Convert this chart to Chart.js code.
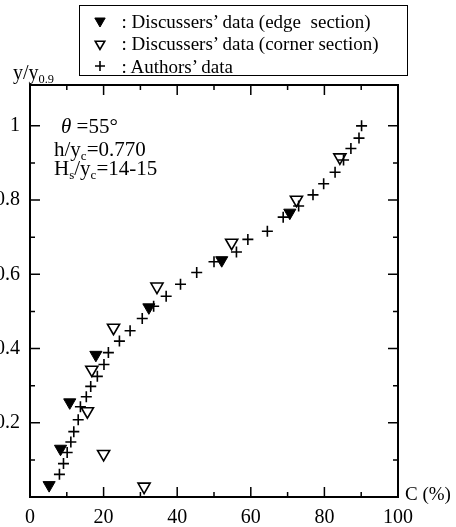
<!DOCTYPE html>
<html><head><meta charset="utf-8">
<script src="https://cdn.jsdelivr.net/npm/chart.js@4/dist/chart.umd.min.js"></script>
<style>
html,body{margin:0;padding:0;background:#fff;overflow:hidden;width:456px;height:527px;}
#wrap{position:relative;width:456px;height:527px;overflow:hidden;background:#fff;}
#c{position:absolute;left:-20px;top:0;}
.t{position:absolute;font-family:"Liberation Serif","Times New Roman",serif;color:#000;white-space:pre;line-height:1;}
.t sub{font-size:0.62em;vertical-align:-0.32em;line-height:0;}
#legend{position:absolute;left:79px;top:5px;width:329px;height:71px;border:1.5px solid #000;box-sizing:border-box;}
.sym{position:absolute;}
</style></head>
<body>
<div id="wrap">
<canvas id="c" width="476" height="527"></canvas>
<div id="legend"></div>
<div class="t" style="left:13px;top:62px;font-size:20px;">y/y<sub>0.9</sub></div>
<div class="t" style="left:405px;top:483.5px;font-size:19px;">C (%)</div>
<div class="t" style="left:61px;top:116px;font-size:21px;"><i>θ</i> =55°</div>
<div class="t" style="left:54px;top:139px;font-size:21px;">h/y<sub>c</sub>=0.770</div>
<div class="t" style="left:54px;top:158px;font-size:21px;">H<sub>s</sub>/y<sub>c</sub>=14-15</div>
</div>
<script>
// ---- data ----
const authorsC = [8.0, 9.1, 10.1, 11.1, 11.9, 13.1, 13.7, 15.3, 16.5, 18.3, 20.1, 21.3, 24.3, 27.2, 30.5, 33.6, 37.0, 40.9, 45.3, 50.0, 56.1, 59.2, 64.5, 68.8, 73.0, 76.9, 79.8, 82.9, 85.2, 87.2, 89.4, 90.1];
const authorsY = [0.061, 0.090, 0.120, 0.148, 0.176, 0.208, 0.243, 0.270, 0.298, 0.325, 0.357, 0.389, 0.420, 0.448, 0.481, 0.514, 0.541, 0.573, 0.605, 0.634, 0.660, 0.694, 0.716, 0.754, 0.784, 0.814, 0.844, 0.875, 0.908, 0.939, 0.967, 1.000];
const edgeC = [5.2, 8.3, 10.8, 17.9, 32.3, 52.1, 70.6];
const edgeY = [0.032, 0.130, 0.255, 0.383, 0.511, 0.638, 0.766];
const cornerC = [31.0, 20.0, 15.6, 16.8, 22.7, 34.5, 54.8, 72.4, 84.2];
const cornerY = [0.028, 0.116, 0.231, 0.343, 0.456, 0.567, 0.685, 0.801, 0.915];
const seriesLabels = ["Discussers\u2019 data (edge  section)", "Discussers\u2019 data (corner section)", "Authors\u2019 data"];
const xTickValues = [0, 20, 40, 60, 80, 100];
const xTickLabels = ["0", "20", "40", "60", "80", "100"];
const xMinorValues = [10, 30, 50, 70, 90];
const yTickValues = [0.2, 0.4, 0.6, 0.8, 1.0];
const yTickLabels = ["0.2", "0.4", "0.6", "0.8", "1"];
const yMinorValues = [0.1, 0.3, 0.5, 0.7, 0.9];
const xRange = [0, 100];
const yRange = [0, 1.11];

const pts = (xs, ys) => xs.map((x, i) => ({x: x, y: ys[i]}));
const FONT = "'Liberation Serif','Times New Roman',serif";

const frameTicks = {
  id: 'frameTicks',
  afterDraw(chart) {
    const {ctx, chartArea: a, scales} = chart;
    const x = scales.x, y = scales.y;
    ctx.save();
    ctx.strokeStyle = '#000';
    ctx.lineWidth = 1.5;
    ctx.beginPath();
    const xt = (vals, len) => vals.forEach(v => {
      if (v <= xRange[0] || v >= xRange[1]) return;
      const p = x.getPixelForValue(v);
      ctx.moveTo(p, a.bottom); ctx.lineTo(p, a.bottom - len);
      ctx.moveTo(p, a.top); ctx.lineTo(p, a.top + len);
    });
    const yt = (vals, len) => vals.forEach(v => {
      if (v <= yRange[0] || v >= yRange[1]) return;
      const p = y.getPixelForValue(v);
      ctx.moveTo(a.left, p); ctx.lineTo(a.left + len, p);
      ctx.moveTo(a.right, p); ctx.lineTo(a.right - len, p);
    });
    xt(xTickValues, 10); xt(xMinorValues, 5);
    yt(yTickValues, 10); yt(yMinorValues, 5);
    ctx.stroke();
    ctx.lineWidth = 2;
    ctx.strokeRect(a.left, a.top, a.right - a.left, a.bottom - a.top);
    ctx.restore();
  }
};

const chart = new Chart(document.getElementById('c'), {
  type: 'scatter',
  data: {
    datasets: [
      {label: seriesLabels[0], data: pts(edgeC, edgeY), pointStyle: 'triangle', rotation: 180, pointRadius: 7,
       backgroundColor: '#000', borderColor: '#000', borderWidth: 1},
      {label: seriesLabels[1], data: pts(cornerC, cornerY), pointStyle: 'triangle', rotation: 180, pointRadius: 7,
       backgroundColor: 'rgba(0,0,0,0)', borderColor: '#000', borderWidth: 1.6},
      {label: seriesLabels[2], data: pts(authorsC, authorsY), pointStyle: 'cross', pointRadius: 5.5,
       backgroundColor: '#000', borderColor: '#000', borderWidth: 1.6}
    ]
  },
  options: {
    responsive: false,
    animation: false,
    events: [],
    layout: {padding: {top: 85, right: 58, left: 0, bottom: 0}},
    plugins: {legend: {display: false}, tooltip: {enabled: false}},
    scales: {
      x: {
        type: 'linear', position: 'bottom', min: xRange[0], max: xRange[1],
        grid: {display: false, drawTicks: false}, border: {display: false},
        afterBuildTicks: s => { s.ticks = xTickValues.map(v => ({value: v})); },
        afterFit: s => { s.height = 30; },
        ticks: {color: '#000', padding: 9, maxRotation: 0, autoSkip: false, font: {family: FONT, size: 20},
          callback: (v) => { const i = xTickValues.indexOf(v); return i >= 0 ? xTickLabels[i] : ''; }}
      },
      y: {
        type: 'linear', position: 'left', min: yRange[0], max: yRange[1],
        grid: {display: false, drawTicks: false}, border: {display: false},
        afterBuildTicks: s => { s.ticks = yTickValues.map(v => ({value: v})); },
        afterFit: s => { s.width = 50; },
        ticks: {color: '#000', padding: 10, autoSkip: false, font: {family: FONT, size: 20},
          callback: (v) => { const i = yTickValues.findIndex(t => Math.abs(t - v) < 1e-9); return i >= 0 ? yTickLabels[i] : ''; }}
      }
    }
  },
  plugins: [frameTicks]
});

// ---- HTML legend built from the chart's datasets ----
const legend = document.getElementById('legend');
const rowCenters = [15, 37.5, 60]; // relative to legend box
chart.data.datasets.forEach((ds, i) => {
  const cv = document.createElement('canvas');
  cv.width = 20; cv.height = 20; cv.className = 'sym';
  cv.style.left = (100 - 79 - 1.5 - 10) + 'px';
  cv.style.top = (rowCenters[i] - 10) + 'px';
  legend.appendChild(cv);
  const g = cv.getContext('2d');
  g.fillStyle = ds.backgroundColor; g.strokeStyle = ds.borderColor;
  g.lineWidth = ds.borderWidth;
  const r = i === 0 ? 6 : (i === 1 ? 5.5 : 5);
  try {
    Chart.helpers.drawPoint(g, {pointStyle: ds.pointStyle, rotation: ds.rotation || 0, radius: r, borderWidth: ds.borderWidth}, 10, 10);
  } catch (e) {
    g.font = '14px DejaVu Sans'; g.textAlign = 'center'; g.textBaseline = 'middle'; g.fillStyle = '#000';
    g.fillText(['\u25BC', '\u25BD', '+'][i], 10, 10);
  }
  const t = document.createElement('div');
  t.className = 't';
  t.style.fontSize = '19px';
  t.style.left = (122 - 79 - 1.5) + 'px';
  t.style.top = (rowCenters[i] - 9.5) + 'px';
  t.textContent = ': ' + ds.label;
  legend.appendChild(t);
});
</script>
</body></html>
